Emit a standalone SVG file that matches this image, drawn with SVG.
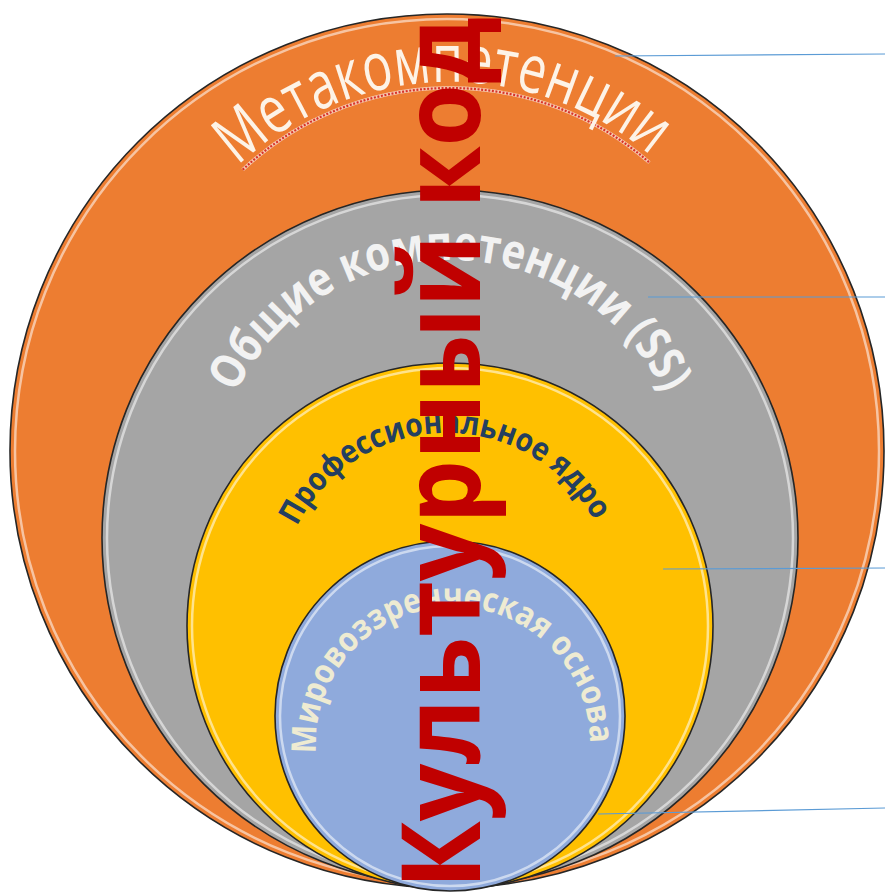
<svg xmlns="http://www.w3.org/2000/svg" width="885" height="894" viewBox="0 0 885 894">
<style>
.ring{stroke:#262626;stroke-width:1.6}
.hl{fill:none;stroke:#ffffff;stroke-opacity:.55;stroke-width:2.5}
.lead{stroke:#5B9BD5;stroke-width:1.2;fill:none}
.arc{font-family:"Open Sans","Noto Sans","Liberation Sans",sans-serif;text-anchor:middle}
</style>
<defs>
<path id="p1" d="M450,702 A310,310 0 1 1 450,82 A310,310 0 1 1 450,702"/>
<path id="p2" d="M450,738 A239,239 0 1 1 450,260 A239,239 0 1 1 450,738"/>
<path id="p3" d="M447,767 A167,167 0 1 1 447,433 A167,167 0 1 1 447,767"/>
<path id="p4" d="M453,881 A137,137 0 1 1 453,607 A137,137 0 1 1 453,881"/>
</defs>
<rect width="885" height="894" fill="#ffffff"/>
<g id="metakompetencii">
<circle class="ring" cx="447" cy="451" r="437" fill="#ED7D31"/>
<circle class="hl" cx="447" cy="451" r="432"/>
<path d="M242.7,169.7 A304,304 0 0 1 649.4,162.5" fill="none" stroke="#F6C9B0" stroke-width="3.5"/>
<path d="M242.7,169.7 A304,304 0 0 1 649.4,162.5" fill="none" stroke="#D8322A" stroke-width="2.2" stroke-dasharray="2 1.6"/>
<text class="arc" font-size="67" font-weight="500" fill="#FDF3E7"><textPath href="#p1" startOffset="49.6%" textLength="452" lengthAdjust="spacingAndGlyphs">Метакомпетенции</textPath></text>
</g>
<g id="obshchie">
<circle class="ring" cx="450" cy="538" r="348" fill="#A5A5A5"/>
<circle class="hl" cx="450" cy="538" r="343"/>
<text class="arc" font-size="48" font-weight="700" fill="#F2F2F2"><textPath href="#p2" startOffset="50%" textLength="532" lengthAdjust="spacingAndGlyphs">Общие компетенции (SS)</textPath></text>
</g>
<g id="professionalnoe">
<circle class="ring" cx="450" cy="626" r="263" fill="#FFC000"/>
<circle class="hl" cx="450" cy="626" r="258" stroke="#FFF59A"/>
<text class="arc" font-size="32" font-weight="700" fill="#243F60"><textPath href="#p3" startOffset="49.7%" textLength="366" lengthAdjust="spacingAndGlyphs">Профессиональное ядро</textPath></text>
</g>
<g id="mirovozzrencheskaya">
<circle class="ring" cx="450" cy="716" r="175" fill="#8FAADC"/>
<circle class="hl" cx="450" cy="716" r="170"/>
<text class="arc" font-size="34" font-weight="700" fill="#EEEBD2"><textPath href="#p4" startOffset="49.4%" textLength="439" lengthAdjust="spacingAndGlyphs">Мировоззренческая основа</textPath></text>
</g>
<g id="connectors">
<line class="lead" x1="615" y1="56" x2="885" y2="54"/>
<line class="lead" x1="648" y1="297" x2="885" y2="297"/>
<line class="lead" x1="663" y1="569" x2="885" y2="568"/>
<line class="lead" x1="598" y1="814" x2="885" y2="808"/>
</g>
<g id="kulturnyi-kod">
<text transform="translate(480,889) rotate(-90)" font-family="'Open Sans','Noto Sans','Liberation Sans',sans-serif" font-weight="700" font-size="110" fill="#C00000" textLength="872" lengthAdjust="spacingAndGlyphs">Культурный код</text>
</g>
</svg>
